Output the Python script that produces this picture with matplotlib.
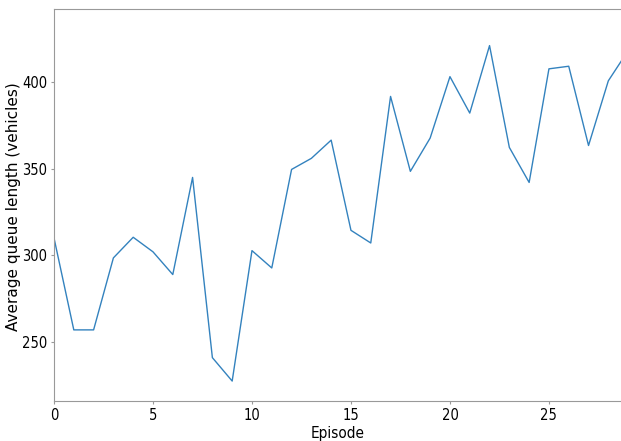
import matplotlib
matplotlib.use("Agg")
import matplotlib.pyplot as plt

episodes = list(range(30))
queue = [310, 257, 257, 298.5, 310.4, 302, 288.9, 344.9, 241, 227.5,
         302.7, 292.7, 349.5, 355.9, 366.4, 314.4, 307.1, 391.6, 348.4, 367.6,
         403, 382, 420.9, 362.2, 342, 407.5, 409, 363.3, 400.6, 418]

fig = plt.figure(figsize=(6.21, 4.41), dpi=100)
ax = fig.add_axes([54/621, 1-401/441, 1-54/621, (401-9)/441])
ax.plot(episodes, queue, color='#3382be', linewidth=1.0)
ax.set_xlim(0, 28.64)
ax.set_ylim(216, 442)
ax.set_xticks([0, 5, 10, 15, 20, 25])
ax.set_yticks([250, 300, 350, 400])
for lab in ax.get_xticklabels() + ax.get_yticklabels():
    lab.set_fontsize(10.5)
    lab.set_fontstretch('condensed')
ax.set_xlabel('Episode', fontsize=11, fontstretch='condensed', labelpad=2)
ax.set_ylabel('Average queue length (vehicles)', fontsize=11)
ax.yaxis.set_label_coords(-0.058, 0.497)
for s in ['left', 'top', 'bottom']:
    ax.spines[s].set_color('#999999')
ax.spines['right'].set_visible(False)
ax.tick_params(colors='#999999', labelcolor='black', length=2, pad=3)
fig.savefig('out.png', dpi=100)
